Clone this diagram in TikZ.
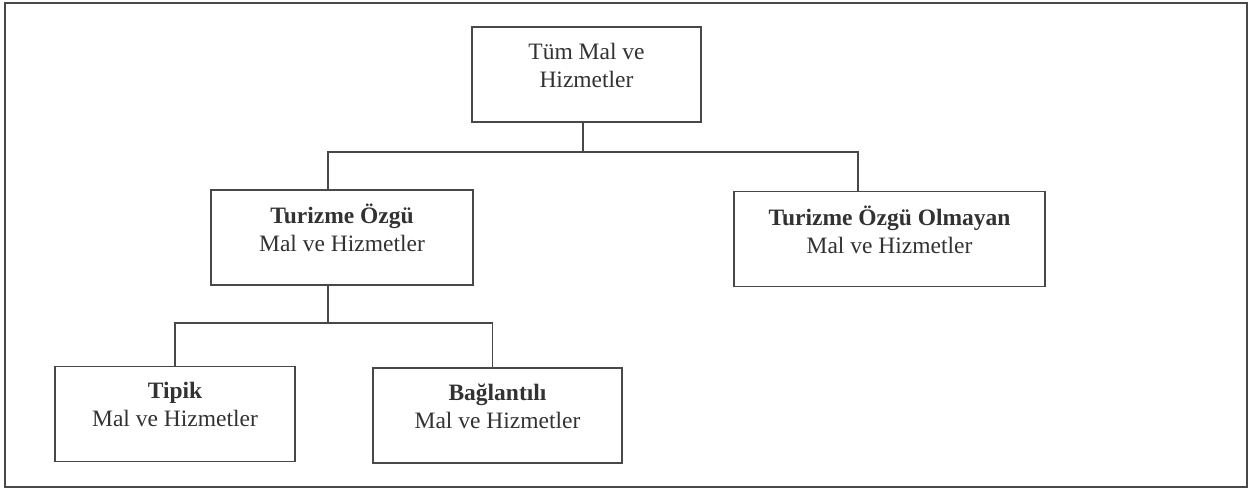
\documentclass[tikz,border=0pt]{standalone}
\usepackage{fontspec}
\setmainfont{Liberation Serif}
\usepackage{xcolor}
\definecolor{scan_grey}{RGB}{72,72,72}
\definecolor{text_grey}{RGB}{50,50,50}
\usepackage{tikz}
\usetikzlibrary{calc,positioning}

\begin{document}
\begin{tikzpicture}
[	x=1pt, y=-1pt,
	box/.style={draw=scan_grey, line width=1.8pt, align=center, text=text_grey, font=\fontsize{23.5}{28}\selectfont, inner sep=0pt, text depth=19pt, minimum height=95pt},
	link/.style={draw=scan_grey, line width=1.5pt},
	frame/.style={draw=scan_grey, line width=2pt}
]
\useasboundingbox (0,0) rectangle (1256,492);
\draw[frame] (5,3) rectangle (1247,487);

\node(allMH)[box, minimum width=229pt] at (586.5,74.5) {Tüm Mal ve\\Hizmetler};
\node(specMH)[box, minimum width=262pt] at (342,237.5) {\textbf{Turizme Özgü}\\Mal ve Hizmetler};
\node(nonspecMH)[box, minimum width=311pt] at (889.5,239) {\textbf{Turizme Özgü Olmayan}\\Mal ve Hizmetler};
\node(typMH)[box, minimum width=240pt] at (175,414) {\textbf{Tipik}\\Mal ve Hizmetler};
\node(connMH)[box, minimum width=249pt] at (497.5,415.5) {\textbf{Bağlantılı}\\Mal ve Hizmetler};

% upper fork
\coordinate (fork1) at (583,152);
\draw[link] (fork1 |- allMH.south) -- (fork1);
\draw[link] ($(specMH.north west)!.447!(specMH.north east)$) |- (fork1) -| ($(nonspecMH.north west)!.4!(nonspecMH.north east)$);

% lower fork
\coordinate (fork2) at (328,323);
\draw[link] (fork2 |- specMH.south) -- (fork2);
\draw[link] (typMH.north) |- (fork2) -| ($(connMH.north west)!.48!(connMH.north east)$);

\end{tikzpicture}
\end{document}
